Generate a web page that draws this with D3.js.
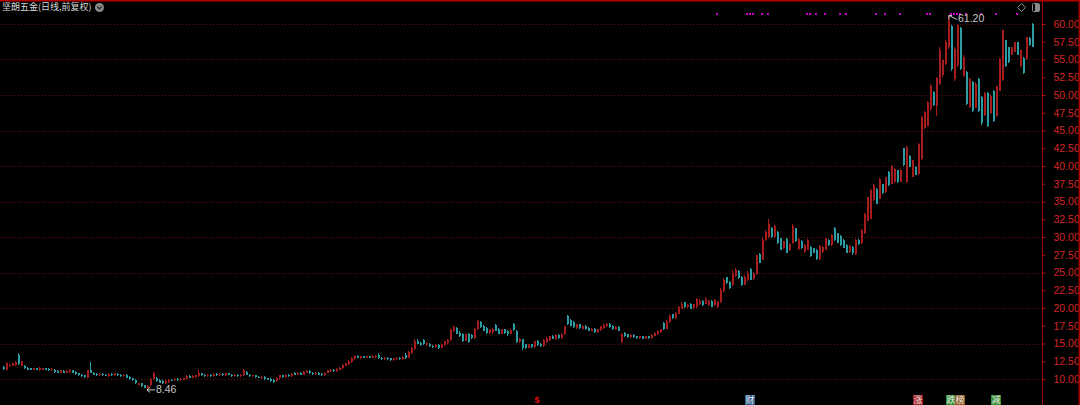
<!DOCTYPE html>
<html><head><meta charset="utf-8">
<script src="https://cdn.jsdelivr.net/npm/d3@7"></script>
<style>html,body{margin:0;padding:0;background:#000;overflow:hidden}</style>
</head><body>
<svg id="chart" width="1080" height="405"></svg>
<script>
const title = "坚朗五金(日线,前复权)";
const openP = [
11.7,11.3,11.8,11.9,12.0,13.4,11.9,11.9,11.6,11.5,
11.3,11.5,11.2,11.3,11.5,11.4,11.2,11.3,11.1,10.9,
11.1,10.9,11.0,11.2,11.0,10.8,10.6,10.5,10.2,11.3,
10.9,10.7,10.5,10.7,10.6,10.4,10.7,10.5,10.7,10.6,
10.4,10.6,10.3,10.1,9.9,9.2,9.4,9.1,8.7,9.1,
10.0,10.2,9.9,9.7,9.4,9.6,9.9,9.8,10.0,9.8,
9.9,10.0,10.4,10.2,10.3,10.4,10.8,10.6,10.4,10.6,
10.4,10.7,10.5,10.7,10.5,10.8,10.6,10.4,10.6,10.4,
10.5,11.0,10.6,10.4,10.5,10.3,10.1,10.3,10.1,10.0,
9.9,9.7,10.1,10.5,10.3,10.6,10.4,10.9,10.6,10.9,
10.6,10.9,11.1,10.9,10.7,10.9,10.7,10.5,10.9,11.1,
11.3,11.1,11.3,11.5,11.9,12.1,12.4,12.8,13.3,12.9,
13.2,13.0,13.2,13.0,13.1,13.4,13.0,12.8,13.0,12.9,
12.7,12.8,13.0,12.8,13.4,13.0,13.6,14.2,15.4,15.1,
15.5,14.8,15.0,14.7,14.5,14.8,14.4,14.8,15.1,15.5,
16.8,17.2,16.5,16.4,15.4,16.3,16.2,15.8,17.0,18.0,
17.5,17.2,16.5,16.6,17.6,17.1,16.4,17.0,16.8,16.4,
17.8,16.8,15.2,15.6,14.9,14.4,14.9,14.5,15.4,15.0,
14.6,15.2,15.5,16.1,15.6,16.2,15.8,16.3,18.9,18.3,
18.0,17.2,17.7,17.1,17.5,17.2,16.8,17.1,16.6,16.9,
17.2,17.4,17.8,17.5,17.0,17.3,15.2,16.5,16.3,15.9,
16.2,16.0,15.8,16.0,15.7,16.0,15.8,16.1,16.3,16.6,
17.9,17.1,18.0,19.1,18.6,19.2,19.9,20.8,20.1,20.5,
20.0,20.2,20.5,21.0,20.6,20.4,21.0,20.4,20.2,20.8,
22.4,24.3,23.7,23.2,24.5,25.2,24.4,23.3,23.9,25.5,
24.1,24.8,27.6,26.8,29.6,30.0,31.3,30.0,30.7,29.8,
28.4,29.7,28.1,29.2,31.2,28.3,29.5,27.9,28.2,28.6,
28.4,28.2,26.9,27.9,28.2,29.6,28.9,31.2,30.5,30.2,
29.6,28.9,27.9,28.6,27.6,29.6,29.1,30.5,32.3,32.6,
35.2,36.8,35.4,37.4,36.3,39.2,37.5,37.7,39.4,37.8,
42.5,37.7,41.4,38.5,39.9,38.9,41.0,45.3,45.7,48.0,
50.4,48.5,51.6,52.8,54.4,56.7,59.7,52.2,54.2,59.4,
52.7,53.2,48.3,51.9,48.2,52.3,49.7,47.2,50.3,47.4,
50.6,47.0,50.6,52.1,57.7,56.7,55.7,56.1,57.4,54.1,
55.2,55.1,58.0,60.0];
const highP = [
11.8,12.4,12.1,12.3,12.5,13.7,12.6,12.0,11.7,11.6,
11.6,11.6,11.7,11.6,11.6,11.5,11.5,11.4,11.2,11.3,
11.2,11.2,11.4,11.3,11.1,10.9,10.7,10.6,11.3,12.4,
11.0,10.8,10.8,10.8,10.7,10.8,10.8,10.9,10.8,10.7,
10.7,10.7,10.4,10.2,10.0,9.5,9.5,9.2,9.1,10.1,
11.0,10.3,10.0,9.8,9.8,10.0,10.0,10.1,10.1,10.1,
10.2,10.5,10.5,10.5,10.6,11.2,10.9,10.7,10.7,10.7,
10.8,10.8,10.8,10.8,10.9,10.9,10.7,10.7,10.7,10.7,
11.4,11.1,10.7,10.6,10.6,10.4,10.4,10.4,10.2,10.1,
10.0,10.3,10.6,10.6,10.7,10.7,10.8,11.0,11.0,11.0,
11.1,11.2,11.2,11.0,11.0,11.0,10.8,11.0,11.3,11.4,
11.4,11.5,11.7,12.1,12.3,12.7,13.1,13.4,13.4,13.3,
13.3,13.3,13.3,13.4,13.4,13.6,13.1,13.1,13.1,13.0,
13.0,13.1,13.1,13.2,13.6,13.9,14.5,15.6,15.6,15.2,
15.7,15.2,15.1,14.8,14.9,14.9,15.0,15.4,15.6,17.1,
17.6,17.3,16.8,16.5,16.4,16.5,16.3,17.2,18.3,18.1,
17.6,17.3,17.1,17.2,17.7,17.2,17.1,17.1,16.9,17.0,
17.9,16.9,15.8,15.7,15.0,15.0,15.0,15.4,15.5,15.1,
15.6,15.9,16.1,16.2,16.3,16.3,16.5,17.5,19.0,18.4,
18.1,17.8,17.8,17.6,17.6,17.3,17.2,17.2,17.1,17.5,
17.7,17.9,17.9,17.6,17.4,17.4,16.5,16.6,16.4,16.3,
16.3,16.1,16.1,16.1,16.1,16.1,16.3,16.6,16.9,17.1,
18.0,18.3,19.2,19.2,19.4,20.3,20.9,20.9,20.5,20.7,
20.6,21.4,21.2,21.1,21.5,21.1,21.1,21.2,21.0,22.8,
24.2,24.4,23.8,25.4,25.6,25.3,24.5,24.6,25.2,25.6,
25.1,27.5,27.7,29.8,31.0,32.6,31.4,31.7,30.8,29.9,
29.5,29.8,29.1,31.8,31.3,29.8,29.6,29.0,29.7,28.7,
28.5,28.3,28.9,28.7,29.9,29.7,30.4,31.4,30.6,30.3,
29.7,29.0,28.9,28.7,29.7,29.7,31.1,33.4,35.7,36.7,
37.4,36.9,38.3,37.5,38.5,39.3,40.1,39.7,39.5,39.6,
42.6,42.8,41.5,40.9,40.0,43.3,47.1,47.8,49.2,51.5,
50.6,52.6,56.7,55.0,57.7,61.2,59.9,56.7,60.0,59.6,
55.6,53.4,52.4,52.0,51.8,52.4,49.8,50.4,50.4,50.0,
50.7,51.3,55.2,59.2,57.8,56.8,56.8,57.5,57.5,56.4,
55.3,58.2,58.1,60.1];
const lowP = [
11.3,11.2,11.7,11.8,11.9,12.0,11.8,11.4,11.2,11.2,
11.2,11.2,11.1,11.2,11.2,11.1,11.1,10.9,10.8,10.8,
10.8,10.8,10.9,10.8,10.6,10.4,10.3,10.2,10.1,10.8,
10.5,10.4,10.4,10.4,10.4,10.3,10.4,10.4,10.4,10.3,
10.3,10.1,9.9,9.7,9.3,9.1,8.9,8.7,8.46,9.0,
9.9,9.6,9.4,9.3,9.3,9.5,9.7,9.7,9.7,9.7,
9.8,9.9,10.1,10.1,10.2,10.3,10.4,10.3,10.3,10.3,
10.3,10.4,10.4,10.4,10.4,10.5,10.3,10.3,10.3,10.3,
10.4,10.5,10.3,10.3,10.2,10.1,10.0,9.9,9.8,9.6,
9.5,9.6,10.0,10.2,10.2,10.3,10.3,10.5,10.5,10.5,
10.5,10.8,10.7,10.6,10.6,10.5,10.4,10.4,10.8,11.0,
11.0,11.0,11.2,11.4,11.8,12.0,12.3,12.7,12.9,12.8,
12.9,12.9,12.9,12.9,13.0,12.8,12.7,12.7,12.7,12.6,
12.6,12.7,12.7,12.7,12.8,12.9,13.5,14.1,14.9,14.7,
14.8,14.7,14.5,14.4,14.4,14.2,14.3,14.7,15.0,15.4,
16.6,16.3,15.9,15.2,15.3,15.1,15.7,15.7,16.9,17.2,
16.7,16.4,16.4,16.3,16.7,16.3,16.3,16.4,16.1,16.3,
16.8,15.1,15.1,14.1,14.2,14.3,14.4,14.4,14.6,14.5,
14.5,15.1,15.4,15.6,15.5,15.7,15.7,16.2,17.6,17.4,
17.2,17.1,17.1,17.0,16.9,16.7,16.7,16.5,16.5,16.8,
17.1,17.3,17.2,16.9,16.9,16.7,15.1,15.9,15.8,15.8,
15.8,15.7,15.7,15.6,15.6,15.7,15.7,16.0,16.2,16.5,
16.9,17.0,17.9,18.5,18.5,19.1,19.8,20.0,20.0,19.8,
19.9,20.0,20.4,20.3,20.5,20.3,20.1,20.3,20.0,20.7,
22.3,23.4,22.7,23.1,24.4,24.1,23.1,23.2,23.8,23.9,
24.0,24.7,26.3,26.7,29.5,29.9,29.9,29.9,29.0,28.1,
28.3,27.7,28.0,29.0,29.3,28.2,28.3,27.8,28.1,27.2,
27.7,26.8,26.8,27.8,28.1,28.8,28.8,29.5,29.1,28.8,
28.4,27.7,27.8,27.5,27.5,28.9,29.0,30.4,32.2,32.5,
35.1,34.6,35.3,36.1,36.2,37.2,37.4,37.6,37.6,37.7,
40.0,37.6,39.8,38.4,38.7,38.8,40.9,45.2,45.6,47.8,
48.4,47.0,51.4,52.6,54.2,56.5,53.4,52.0,54.0,53.5,
52.6,48.6,48.1,47.6,48.1,47.6,45.8,47.1,45.5,47.3,
46.2,46.9,50.5,52.0,54.0,54.5,55.6,56.0,55.6,54.0,
53.0,55.0,56.9,56.7];
const closeP = [
11.4,12.3,12.0,12.2,12.4,12.1,12.5,11.5,11.3,11.3,
11.5,11.3,11.6,11.5,11.3,11.2,11.4,11.0,10.9,11.2,
10.9,11.1,11.3,10.9,10.7,10.5,10.4,10.3,11.2,10.9,
10.6,10.5,10.7,10.5,10.5,10.7,10.5,10.8,10.5,10.4,
10.6,10.2,10.0,9.8,9.4,9.4,9.0,8.8,9.0,10.0,
10.9,9.7,9.5,9.4,9.7,9.9,9.8,10.0,9.8,10.0,
10.1,10.4,10.2,10.4,10.5,10.9,10.5,10.4,10.6,10.4,
10.7,10.5,10.7,10.5,10.8,10.6,10.4,10.6,10.4,10.6,
11.3,10.6,10.4,10.5,10.3,10.2,10.3,10.0,9.9,9.7,
9.6,10.2,10.5,10.3,10.6,10.4,10.7,10.6,10.9,10.6,
11.0,11.1,10.8,10.7,10.9,10.6,10.5,10.9,11.2,11.3,
11.1,11.4,11.6,12.0,12.2,12.6,13.0,13.3,13.0,13.2,
13.0,13.2,13.0,13.3,13.3,12.9,12.8,13.0,12.8,12.7,
12.9,13.0,12.8,13.1,12.9,13.8,14.4,15.4,15.0,14.8,
14.9,15.1,14.6,14.5,14.8,14.4,14.9,15.3,15.5,17.0,
17.3,16.4,16.0,15.4,16.3,15.2,15.8,17.0,18.1,17.3,
16.8,16.5,17.0,17.1,16.8,16.4,17.0,16.5,16.3,16.9,
16.9,15.2,15.7,14.3,14.3,14.9,14.5,15.3,14.8,14.6,
15.5,15.8,16.0,15.7,16.2,15.8,16.4,17.4,17.8,17.5,
17.3,17.7,17.2,17.5,17.0,16.8,17.1,16.6,17.0,17.4,
17.6,17.8,17.3,17.0,17.3,16.8,16.4,16.0,15.9,16.2,
15.9,15.8,16.0,15.7,16.0,15.8,16.2,16.5,16.8,17.0,
17.0,18.2,18.9,18.6,19.3,20.2,20.6,20.1,20.4,19.9,
20.5,21.2,21.0,20.4,21.3,21.0,20.2,21.1,20.9,22.6,
24.0,23.5,22.8,25.0,25.4,24.2,23.2,24.4,25.0,24.0,
25.0,27.4,26.4,29.6,30.7,31.8,30.0,31.6,29.1,28.2,
29.4,27.8,29.0,31.6,29.4,29.7,28.4,28.9,29.6,27.3,
27.8,26.9,28.8,28.6,29.8,28.9,30.3,29.6,29.2,28.9,
28.5,27.8,28.8,27.7,29.6,29.0,31.0,33.3,35.6,36.6,
37.3,34.7,38.2,36.2,38.4,37.3,40.0,39.6,37.7,39.5,
40.1,42.7,39.9,40.8,38.8,43.1,46.9,47.6,49.0,51.2,
48.6,52.4,56.4,54.9,57.5,60.5,53.6,56.5,59.8,53.7,
55.4,48.8,52.2,47.8,51.6,47.8,46.0,50.3,45.6,49.9,
46.3,51.2,55.1,59.1,54.1,54.6,56.7,57.4,55.7,56.3,
53.1,58.1,57.0,56.8];
const yTickValues = [10,12.5,15,17.5,20,22.5,25,27.5,30,32.5,35,37.5,40,42.5,45,47.5,50,52.5,55,57.5,60];
const gridValues = [10,15,20,25,30,35,40,45,50,55,60];
const eventDots = [238,248,249,250,253,255,268,269,271,274,279,281,291,294,299,308,309,316,317,318,319,321,326,331,338];
const badgeIdx = [249,305,316,319,331];
const badgeText = ["财","涨","跌","榜","减"];
const dollarIdx = 178;
const maxLabel = "61.20";
const minLabel = "8.46";

const N = closeP.length;
const svg = d3.select("#chart");
svg.append("rect").attr("width",1080).attr("height",405).attr("fill","#000");

const x = d3.scaleBand().domain(d3.range(N)).range([1.5, 1.5 + 3*N]).padding(0);
const y = d3.scaleLinear().domain([10,60]).range([379,24]);
const axisX = 1042;

// gridlines
svg.append("g").selectAll("line").data(gridValues).join("line")
  .attr("x1",0).attr("x2",axisX).attr("y1",d=>Math.round(y(d))+0.5).attr("y2",d=>Math.round(y(d))+0.5)
  .attr("stroke","#6a0d0d").attr("stroke-width",1).attr("stroke-dasharray","1,2");

// candles
const g = svg.append("g").attr("shape-rendering","crispEdges");
const up = i => closeP[i] >= openP[i];
const redC = "#a81c1c", cyanC = "#2a9ea4";
const idx = d3.range(N);
g.selectAll("rect.wick").data(idx).join("rect").attr("class","wick")
  .attr("x",i=>Math.round(x(i))+1).attr("width",1)
  .attr("y",i=>y(highP[i])).attr("height",i=>Math.max(1,y(lowP[i])-y(highP[i])))
  .attr("fill",i=>up(i)?redC:cyanC);
g.selectAll("rect.body").data(idx).join("rect").attr("class","body")
  .attr("x",i=>Math.round(x(i))+0.5).attr("width",2)
  .attr("y",i=>y(Math.max(openP[i],closeP[i])))
  .attr("height",i=>Math.max(1,Math.abs(y(openP[i])-y(closeP[i]))))
  .attr("fill",i=>up(i)?redC:cyanC);

// right axis
const axis = d3.axisRight(y).tickValues(yTickValues).tickSize(3).tickSizeOuter(0).tickPadding(8)
  .tickFormat(d3.format(".2f"));
const ag = svg.append("g").attr("transform",`translate(${axisX+0.5},0)`).call(axis);
ag.select(".domain").remove();
ag.selectAll("line").attr("stroke","#a01010");
ag.selectAll("text").attr("fill","#d42626").attr("font-family","'Liberation Sans', Arial, sans-serif").attr("font-size","10.5px");
svg.append("line").attr("x1",axisX+0.5).attr("x2",axisX+0.5).attr("y1",0).attr("y2",405).attr("stroke","#a00c0c");

// borders
svg.append("rect").attr("x",0).attr("y",0).attr("width",1080).attr("height",1.5).attr("fill","#b00000");
svg.append("rect").attr("x",1078.5).attr("y",0).attr("width",1.5).attr("height",405).attr("fill","#a00000");

// title
svg.append("text").attr("x",2).attr("y",8).attr("dominant-baseline","middle")
  .attr("fill","#d8d8d8").attr("font-size","9px").attr("font-family","'Noto Sans CJK SC', sans-serif").text(title);
svg.append("circle").attr("cx",99.5).attr("cy",7.5).attr("r",4.5).attr("fill","#8a8a8a");
svg.append("path").attr("d","M97.3,6.5 L99.5,8.8 L101.7,6.5").attr("fill","none").attr("stroke","#222").attr("stroke-width",1.2);

// top-right icons
svg.append("path").attr("d","M1021.5,3.5 L1025.5,7.5 L1021.5,11.5 L1017.5,7.5 Z").attr("fill","none").attr("stroke","#8c8c8c").attr("stroke-width",1);
svg.append("rect").attr("x",1032.5).attr("y",3.5).attr("width",7).attr("height",8).attr("rx",1).attr("fill","none").attr("stroke","#8c8c8c");
svg.append("rect").attr("x",1035).attr("y",4).attr("width",4).attr("height",7).attr("fill","#8c8c8c");

// event dots
svg.append("g").selectAll("rect").data(eventDots).join("rect")
  .attr("x",i=>x(i)+0.5).attr("y",13).attr("width",2).attr("height",2).attr("fill","#c800c8");

// max label
const iMax = d3.maxIndex(highP);
const mx = x(iMax)+1.5, my = y(highP[iMax]);
svg.append("path").attr("d",`M${mx+1},${my+4} L${mx+1},${my} L${mx+4},${my} M${mx+1},${my} L${mx+9},${my+4}`)
  .attr("fill","none").attr("stroke","#c8c8c8").attr("stroke-width",1);
svg.append("text").attr("x",mx+10).attr("y",my+3.5).attr("dominant-baseline","middle").attr("fill","#c8c8c8")
  .attr("font-size","10.5px").attr("font-family","'Liberation Sans', Arial, sans-serif").text(maxLabel);

// min label
const iMin = d3.minIndex(lowP);
const nx = x(iMin)+1.5, ny = y(lowP[iMin]);
svg.append("path").attr("d",`M${nx},${ny} L${nx+8},${ny} M${nx},${ny} L${nx+3},${ny-2.5} M${nx},${ny} L${nx+3},${ny+2.5}`)
  .attr("fill","none").attr("stroke","#c8c8c8").attr("stroke-width",1);
svg.append("text").attr("x",nx+9).attr("y",ny+0.5).attr("dominant-baseline","middle").attr("fill","#c8c8c8")
  .attr("font-size","10.5px").attr("font-family","'Liberation Sans', Arial, sans-serif").text(minLabel);

// bottom badges
const badgeBg = {"财":"#2f5f8f","涨":"#a31a1a","跌":"#2f8f2f","榜":"#8f5a24","减":"#2f8f2f"};
const bg = svg.append("g");
badgeIdx.forEach((i,k)=>{
  const bx = x(i)-3.5;
  bg.append("rect").attr("x",bx).attr("y",395).attr("width",10).attr("height",11).attr("fill",badgeBg[badgeText[k]]);
  bg.append("text").attr("x",bx+5).attr("y",401).attr("text-anchor","middle").attr("dominant-baseline","middle")
    .attr("fill","#e8e8e8").attr("font-size","9px").attr("font-family","'Noto Sans CJK SC', sans-serif").text(badgeText[k]);
});
svg.append("text").attr("x",x(dollarIdx)+1.5).attr("y",401).attr("text-anchor","middle").attr("dominant-baseline","middle")
  .attr("fill","#e01010").attr("font-size","9px").attr("font-weight","bold").attr("font-family","'Liberation Sans', Arial, sans-serif").text("$");
</script>
</body></html>
